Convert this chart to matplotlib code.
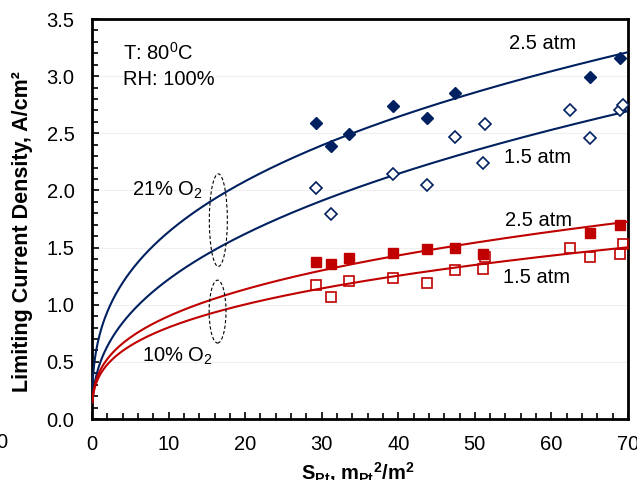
import numpy as np
import matplotlib
matplotlib.use("Agg")
import matplotlib.pyplot as plt
from matplotlib.patches import Ellipse
from matplotlib.ticker import MultipleLocator, FormatStrFormatter

plt.rcParams["font.family"] = ["Liberation Sans", "DejaVu Sans"]
plt.rcParams["mathtext.fontset"] = "custom"
plt.rcParams["mathtext.rm"] = "Liberation Sans"
plt.rcParams["mathtext.bf"] = "Liberation Sans:bold"
plt.rcParams["mathtext.it"] = "Liberation Sans:italic"

NAVY = "#002060"
RED = "#c00000"

# measured limiting current density, A/cm2, vs Pt surface area factor
s_21_25 = [29.25, 31.2, 33.5, 39.3, 43.7, 47.4, 65.0, 69.0]
i_21_25 = [2.59, 2.39, 2.49, 2.74, 2.63, 2.85, 2.99, 3.16]

s_21_15 = [29.25, 31.2, 39.3, 43.7, 47.4, 51.0, 51.3, 62.4, 65.0, 69.0, 69.4]
i_21_15 = [2.02, 1.79, 2.14, 2.05, 2.47, 2.24, 2.58, 2.70, 2.46, 2.70, 2.75]

s_10_25 = [29.25, 31.2, 33.5, 39.3, 43.7, 47.4, 51.0, 65.0, 69.0]
i_10_25 = [1.37, 1.36, 1.41, 1.455, 1.49, 1.50, 1.44, 1.63, 1.70]

s_10_15 = [29.25, 31.2, 33.5, 39.3, 43.7, 47.4, 51.0, 51.3, 62.4, 65.0, 69.0, 69.4]
i_10_15 = [1.17, 1.07, 1.21, 1.23, 1.19, 1.30, 1.31, 1.42, 1.50, 1.42, 1.44, 1.53]

# power-law model curves i = a * S^b
fit_a = [0.738, 0.48, 0.416, 0.381]
fit_b = [0.346, 0.406, 0.335, 0.323]
fit_color = [NAVY, NAVY, RED, RED]

fig = plt.figure(figsize=(6.37, 4.8), dpi=100)
ax = fig.add_axes([0.1444, 0.127, 0.8415, 0.8334])

s = np.linspace(0.05, 70, 600)
for a, b, c in zip(fit_a, fit_b, fit_color):
    ax.plot(s, a * s ** b, color=c, lw=1.5, zorder=3)

ax.plot(s_21_25, i_21_25, ls="none", marker="D", ms=6, color=NAVY, zorder=4)
ax.plot(s_21_15, i_21_15, ls="none", marker="D", ms=5.8, mfc="white", mec=NAVY, mew=1.2, zorder=4)
ax.plot(s_10_25, i_10_25, ls="none", marker="s", ms=7.6, color=RED, zorder=4)
ax.plot(s_10_15, i_10_15, ls="none", marker="s", ms=6.8, mfc="none", mec=RED, mew=1.2, zorder=4)

ax.add_patch(Ellipse((16.5, 1.74), 2.35, 0.81, fill=False, ls=(0, (3, 2)), lw=0.8, ec="black", zorder=5))
ax.add_patch(Ellipse((16.4, 0.94), 2.2, 0.55, fill=False, ls=(0, (3, 2)), lw=0.8, ec="black", zorder=5))

fs = 14.5
ax.text(4.0, 3.20, "T: 80$^\\mathregular{0}$C", fontsize=fs, va="center")
ax.text(4.0, 2.97, "RH: 100%", fontsize=fs, va="center")
ax.text(9.9, 2.0, "21% O$_\\mathregular{2}$", fontsize=fs, ha="center", va="center")
ax.text(11.2, 0.55, "10% O$_\\mathregular{2}$", fontsize=fs, ha="center", va="center")
ax.text(58.8, 3.29, "2.5 atm", fontsize=fs, ha="center", va="center")
ax.text(58.2, 2.29, "1.5 atm", fontsize=fs, ha="center", va="center")
ax.text(58.3, 1.74, "2.5 atm", fontsize=fs, ha="center", va="center")
ax.text(58.0, 1.24, "1.5 atm", fontsize=fs, ha="center", va="center")

ax.set_xlim(0, 70)
ax.set_ylim(0, 3.5)
ax.xaxis.set_major_locator(MultipleLocator(10))
ax.xaxis.set_minor_locator(MultipleLocator(2))
ax.yaxis.set_major_locator(MultipleLocator(0.5))
ax.yaxis.set_minor_locator(MultipleLocator(0.1))
ax.yaxis.set_major_formatter(FormatStrFormatter("%.1f"))
ax.grid(axis="y", which="major", color="#efefef", lw=0.8, zorder=0)

ax.tick_params(which="both", direction="in", width=1.2, labelsize=fs)
ax.tick_params(which="major", length=5)
ax.tick_params(which="minor", length=4)
ax.tick_params(axis="x", pad=11.5)
ax.tick_params(axis="y", pad=12.5)
for sp in ax.spines.values():
    sp.set_linewidth(2)

ax.set_ylabel("Limiting Current Density, A/cm²", fontsize=15.5, fontweight="bold")
ax.yaxis.set_label_coords(-0.110, 0.4675)
ax.set_xlabel(r"S$_\mathbf{Pt}$, m$_\mathbf{Pt}$$^\mathbf{2}$/m$^\mathbf{2}$", fontsize=14.5, fontweight="bold")
ax.xaxis.set_label_coords(0.496, -0.105)

fig.text(2 / 637, 1 - 443 / 480, "0", fontsize=fs, ha="center", va="center")

fig.savefig("out.png", dpi=100)
